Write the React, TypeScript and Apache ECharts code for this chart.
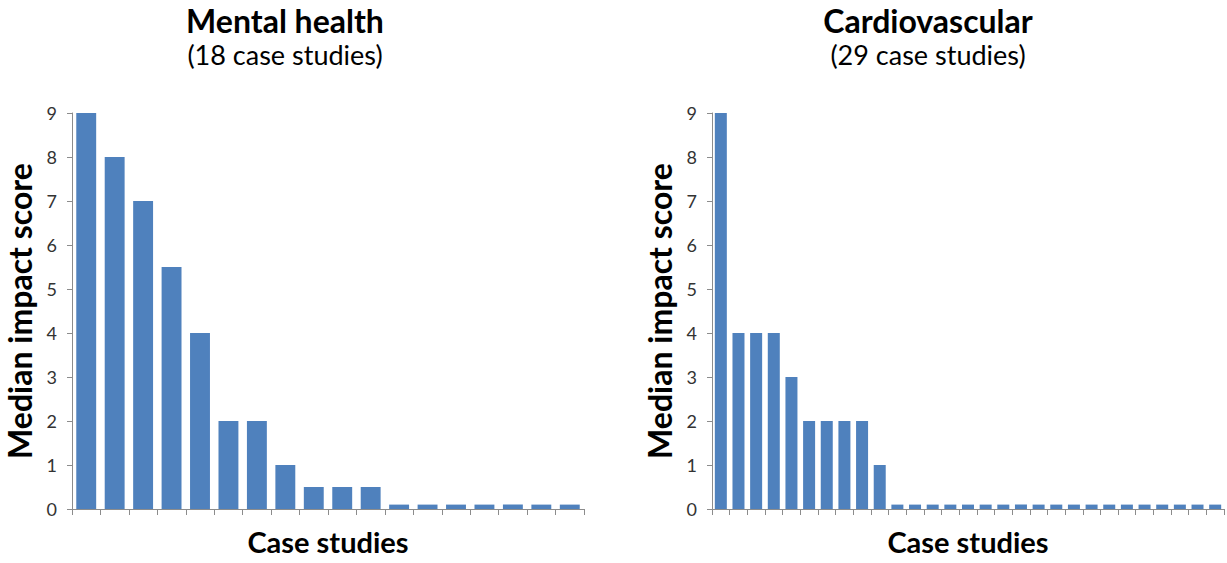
import React, { useEffect, useRef } from "react";
import * as echarts from "echarts";

const mentalValues = [9, 8, 7, 5.5, 4, 2, 2, 1, 0.5, 0.5, 0.5, 0.1, 0.1, 0.1, 0.1, 0.1, 0.1, 0.1];
const cardioValues = [9, 4, 4, 4, 3, 2, 2, 2, 2, 1, 0.1, 0.1, 0.1, 0.1, 0.1, 0.1, 0.1, 0.1, 0.1, 0.1, 0.1, 0.1, 0.1, 0.1, 0.1, 0.1, 0.1, 0.1, 0.1];
const mentalCategories = mentalValues.map((_, i) => `Case ${i + 1}`);
const cardioCategories = cardioValues.map((_, i) => `Case ${i + 1}`);
const titles = ["Mental health", "Cardiovascular"];
const subtitles = ["(18 case studies)", "(29 case studies)"];
const yTicks = [0, 1, 2, 3, 4, 5, 6, 7, 8, 9];

const FONT = "Lato, 'Open Sans', sans-serif";
const BAR = "#4F81BD";
const AXIS = "#8C8C8C";

export default function App() {
  const ref = useRef<HTMLDivElement>(null);
  useEffect(() => {
    if (!ref.current) return;
    const chart = echarts.init(ref.current, undefined, { renderer: "svg" });
    const grids = [
      { left: 72, top: 113, width: 512, height: 396, outerBoundsMode: "none", containLabel: false },
      { left: 712, top: 113, width: 512, height: 396, outerBoundsMode: "none", containLabel: false },
    ];
    const cats = [mentalCategories, cardioCategories];
    const vals = [mentalValues, cardioValues];
    const centers = [285, 928];
    chart.setOption({
      animation: false,
      backgroundColor: "#ffffff",
      grid: grids,
      graphic: [0, 1].flatMap((i) => [
        {
          type: "text",
          x: centers[i],
          y: 4,
          style: {
            text: titles[i],
            font: `bold 32px ${FONT}`,
            fill: "#000",
            textAlign: "center",
            textVerticalAlign: "top",
          },
        },
        {
          type: "text",
          x: centers[i],
          y: 41,
          style: {
            text: subtitles[i],
            font: `27px ${FONT}`,
            fill: "#000",
            textAlign: "center",
            textVerticalAlign: "top",
          },
        },
      ]),
      xAxis: [0, 1].map((i) => ({
        type: "category",
        gridIndex: i,
        data: cats[i],
        boundaryGap: true,
        name: "Case studies",
        nameLocation: "middle",
        nameGap: 18,
        nameTextStyle: { fontFamily: FONT, fontWeight: "bold", fontSize: 29, color: "#000" },
        axisLine: { show: true, lineStyle: { color: AXIS, width: 1 } },
        axisTick: { show: true, interval: 0, length: 6, lineStyle: { color: AXIS } },
        axisLabel: { show: false },
        splitLine: { show: false },
      })),
      yAxis: [0, 1].map((i) => ({
        type: "value",
        gridIndex: i,
        min: yTicks[0],
        max: yTicks[yTicks.length - 1],
        interval: 1,
        name: "Median impact score",
        nameLocation: "middle",
        nameGap: 37,
        nameTextStyle: { fontFamily: FONT, fontWeight: "bold", fontSize: 32, color: "#000" },
        axisLine: { show: true, lineStyle: { color: AXIS, width: 1 } },
        axisTick: { show: true, length: 5, lineStyle: { color: AXIS } },
        axisLabel: { fontFamily: FONT, fontSize: 18, color: "#333333", margin: 15 },
        splitLine: { show: false },
      })),
      series: [0, 1].map((i) => ({
        type: "bar",
        xAxisIndex: i,
        yAxisIndex: i,
        data: vals[i],
        barCategoryGap: i === 0 ? "30%" : "32%",
        itemStyle: { color: BAR },
      })),
    });
    return () => chart.dispose();
  }, []);
  return (
    <div
      ref={ref}
      style={{ position: "fixed", left: 0, top: 0, width: 1227, height: 563, background: "#fff" }}
    />
  );
}
